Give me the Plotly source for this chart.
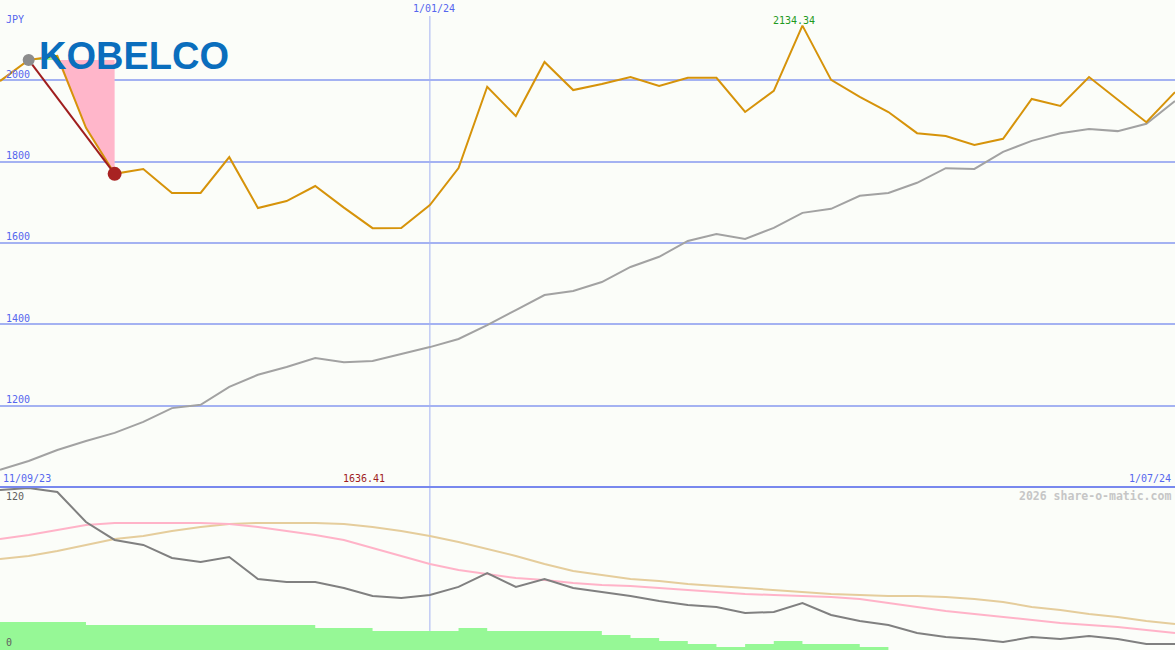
import plotly.graph_objects as go
import pandas as pd

# ---------------- data ----------------
weeks = pd.date_range("2023-09-18", periods=42, freq="7D")

price = [1998, 2050, 2060, 1883, 1770, 1782, 1723, 1723, 1811, 1686,
         1703, 1740, 1687, 1636.41, 1637, 1693, 1784, 1984, 1912, 2045,
         1976, 1991, 2008, 1986, 2006, 2006, 1922, 1974, 2134.34, 2001,
         1959, 1922, 1870, 1863, 1841, 1856, 1954, 1937, 2008, 1953,
         1897, 1971]

trend = [1042, 1064, 1091, 1113, 1133, 1160, 1194, 1202, 1246, 1276,
         1295, 1317, 1307, 1310, 1327, 1344, 1364, 1398, 1435, 1472,
         1482, 1504, 1541, 1566, 1605, 1622, 1610, 1637, 1674, 1684,
         1716, 1723, 1748, 1784, 1782, 1824, 1851, 1870, 1880, 1875,
         1893, 1949]

osc = [118.5, 120.0, 117.0, 94.8, 81.5, 77.8, 68.1, 65.2, 68.9, 52.6,
       50.4, 50.4, 45.9, 40.0, 38.5, 40.7, 46.7, 57.0, 46.7, 52.6,
       45.9, 43.0, 40.0, 36.3, 33.3, 31.9, 27.4, 28.1, 34.8, 25.9,
       21.5, 18.5, 12.6, 9.6, 8.1, 5.9, 9.6, 8.1, 10.4, 8.1,
       4.4, 4.4]

fast_avg = [82.2, 85.2, 88.9, 92.6, 94.1, 94.1, 94.1, 94.1, 93.3, 91.1,
            88.1, 85.2, 81.5, 75.6, 69.6, 63.7, 59.3, 56.3, 53.3, 51.9,
            49.6, 48.1, 47.4, 45.9, 44.4, 43.0, 41.5, 40.7, 40.0, 39.3,
            37.8, 34.8, 31.9, 28.9, 26.7, 24.4, 22.2, 20.0, 18.5, 17.0,
            14.8, 12.6]

slow_avg = [67.4, 69.6, 73.3, 77.8, 82.2, 84.4, 88.1, 91.1, 93.3, 94.1,
            94.1, 94.1, 93.3, 91.1, 88.1, 84.4, 80.0, 74.8, 69.6, 63.7,
            58.5, 55.6, 52.6, 51.1, 48.9, 47.4, 45.9, 44.4, 43.0, 41.5,
            40.7, 40.0, 40.0, 39.3, 37.8, 35.6, 31.9, 29.6, 26.7, 24.4,
            21.5, 19.3]

volume = [20.7, 20.7, 20.7, 18.5, 18.5, 18.5, 18.5, 18.5, 18.5, 18.5,
          18.5, 16.3, 16.3, 14.1, 14.1, 14.1, 16.3, 14.1, 14.1, 14.1,
          14.1, 11.1, 8.9, 6.7, 4.4, 2.2, 4.4, 6.7, 4.4, 4.4,
          2.2, 0, 0, 0, 0, 0, 0, 0, 0, 0, 0]

price_ticks = [1200, 1400, 1600, 1800, 2000]
osc_ticks = [0, 120]
currency = "JPY"
start_label = "11/09/23"
mid_date = "2024-01-01"
mid_label = "1/01/24"
end_label = "1/07/24"
logo_text = "KOBELCO"
watermark = "2026 share-o-matic.com"

# ---------------- style ----------------
W, H = 1175, 650
split = 163 / H
BG = "#fbfdf9"
BLUE_TXT = "#5566ee"
GRID = "#a4b2f2"
MONO = "DejaVu Sans Mono"


def py(pix):
    return 1 - pix / H


fig = go.Figure()

# ---- lower panel ----
fig.add_trace(go.Scatter(x=weeks, y=volume + [volume[-1]], mode="lines",
                         line=dict(shape="hv", width=0, color="#96f896"),
                         fill="tozeroy", fillcolor="#96f896", yaxis="y2"))
fig.add_trace(go.Scatter(x=weeks, y=slow_avg, mode="lines",
                         line=dict(color="#e5cd9c", width=2), yaxis="y2"))
fig.add_trace(go.Scatter(x=weeks, y=fast_avg, mode="lines",
                         line=dict(color="#ffb3c8", width=2), yaxis="y2"))
fig.add_trace(go.Scatter(x=weeks, y=osc, mode="lines",
                         line=dict(color="#808080", width=2), yaxis="y2"))

# ---- upper panel ----
fig.add_trace(go.Scatter(x=weeks, y=trend, mode="lines",
                         line=dict(color="#a2a2a2", width=2), yaxis="y"))
# pink drop area
fig.add_trace(go.Scatter(
    x=[weeks[2], weeks[4], weeks[4], weeks[3], weeks[2]],
    y=[price[1], price[1], price[4], price[3], price[1]],
    mode="lines", fill="toself", fillcolor="#ffb6ca",
    line=dict(width=0, color="#ffb6ca"), yaxis="y"))
# small green sliver
fig.add_trace(go.Scatter(
    x=[weeks[1], weeks[2], weeks[2], weeks[1]],
    y=[price[1], price[2], price[1], price[1]],
    mode="lines", fill="toself", fillcolor="#98f098",
    line=dict(width=0, color="#98f098"), yaxis="y"))
fig.add_trace(go.Scatter(x=weeks, y=price, mode="lines",
                         line=dict(color="#d6930a", width=2), yaxis="y"))
fig.add_trace(go.Scatter(x=[weeks[1], weeks[4]], y=[price[1], price[4]],
                         mode="lines", line=dict(color="#a01e1e", width=2),
                         yaxis="y"))
fig.add_trace(go.Scatter(x=[weeks[1]], y=[price[1]], mode="markers",
                         marker=dict(color="#8c8c8c", size=12), yaxis="y"))
fig.add_trace(go.Scatter(x=[weeks[4]], y=[price[4]], mode="markers",
                         marker=dict(color="#a82222", size=14), yaxis="y"))

imax = max(range(len(price)), key=lambda i: price[i])
imin = min(range(len(price)), key=lambda i: price[i])

ann = []
# logo
ann.append(dict(text="<b>" + logo_text + "</b>", x=134 / W, y=py(56),
                xref="paper", yref="paper",
                showarrow=False, xanchor="center", yanchor="middle",
                font=dict(family="Liberation Sans", size=38, color="#0a6ebd")))
ann.append(dict(text=currency, x=5 / W, y=py(19), xref="paper", yref="paper",
                showarrow=False, xanchor="left", yanchor="middle",
                font=dict(family=MONO, size=10, color=BLUE_TXT)))
for t in price_ticks:
    ann.append(dict(text=str(t), x=5 / W, y=t, xref="paper", yref="y",
                    showarrow=False, xanchor="left", yanchor="middle", yshift=6,
                    font=dict(family=MONO, size=10, color=BLUE_TXT)))
ann.append(dict(text=mid_label, x=mid_date, y=py(9), xref="x", yref="paper",
                showarrow=False, xanchor="center", yanchor="middle", xshift=4,
                font=dict(family=MONO, size=10, color=BLUE_TXT)))
ann.append(dict(text=f"{price[imax]:.2f}", x=weeks[imax], y=price[imax],
                xref="x", yref="y", showarrow=False, xanchor="center",
                yanchor="bottom", xshift=-8, yshift=-1,
                font=dict(family=MONO, size=10, color="#1f9a1f")))
ann.append(dict(text=f"{price[imin]:.2f}", x=weeks[imin], y=py(478),
                xref="x", yref="paper", showarrow=False, xanchor="center",
                yanchor="middle", xshift=-9,
                font=dict(family=MONO, size=10, color="#a01e1e")))
ann.append(dict(text=start_label, x=2 / W, y=py(478), xref="paper", yref="paper",
                showarrow=False, xanchor="left", yanchor="middle",
                font=dict(family=MONO, size=10, color=BLUE_TXT)))
ann.append(dict(text=end_label, x=1172 / W, y=py(478), xref="paper", yref="paper",
                showarrow=False, xanchor="right", yanchor="middle",
                font=dict(family=MONO, size=10, color=BLUE_TXT)))
ann.append(dict(text="<b>" + watermark + "</b>", x=1172 / W, y=py(496),
                xref="paper", yref="paper",
                showarrow=False, xanchor="right", yanchor="middle",
                font=dict(family=MONO, size=11.5, color="#c6c6c6")))
ann.append(dict(text=str(osc_ticks[1]), x=5 / W, y=py(496), xref="paper", yref="paper",
                showarrow=False, xanchor="left", yanchor="middle",
                font=dict(family=MONO, size=10, color="#606060")))
ann.append(dict(text=str(osc_ticks[0]), x=5 / W, y=py(642), xref="paper", yref="paper",
                showarrow=False, xanchor="left", yanchor="middle",
                font=dict(family=MONO, size=10, color="#606060")))
for a in ann:
    a["borderpad"] = 0

shapes = [
    dict(type="line", xref="x", yref="paper", x0=mid_date, x1=mid_date,
         y0=0, y1=py(16), line=dict(color=GRID, width=1), layer="below"),
    dict(type="line", xref="paper", yref="paper", x0=0, x1=1, y0=split, y1=split,
         line=dict(color="#7888ee", width=2)),
]

fig.update_layout(
    width=W, height=H, margin=dict(l=0, r=0, t=0, b=0),
    paper_bgcolor=BG, plot_bgcolor=BG, showlegend=False,
    hovermode=False,
    xaxis=dict(type="date", range=[weeks[0], weeks[-1]], visible=False,
               anchor="y2"),
    yaxis=dict(domain=[split, 1], range=[1000, 2197.4], tickmode="array",
               tickvals=price_ticks, showgrid=True, gridcolor=GRID, gridwidth=2,
               showticklabels=False, ticks="", zeroline=False, showline=False),
    yaxis2=dict(domain=[0, split], range=[0, 120.7], visible=False),
    annotations=ann, shapes=shapes,
)

fig.write_html("out.html", config={"displayModeBar": False},
               post_script="document.body.style.margin='0';")
